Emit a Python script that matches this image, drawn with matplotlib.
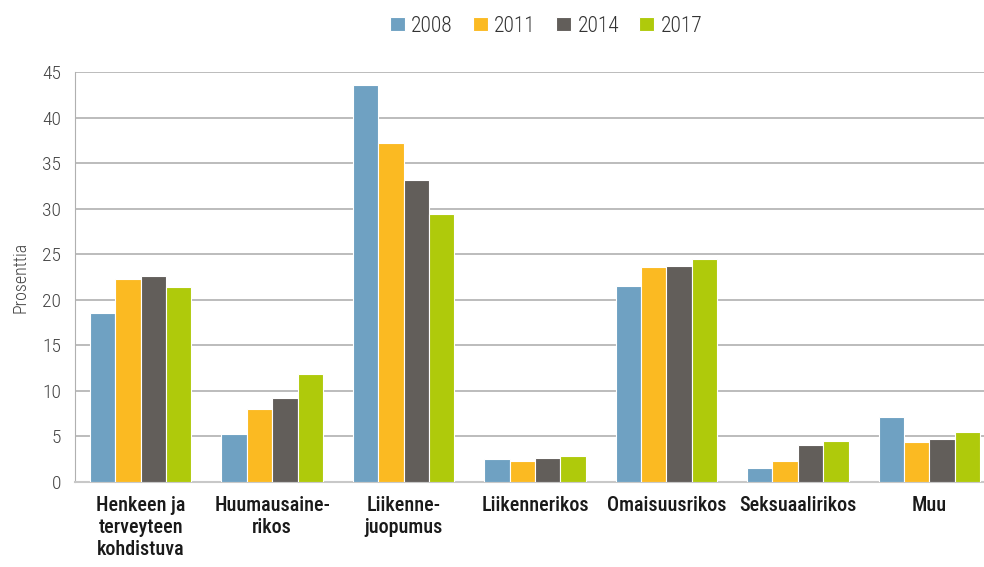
import numpy as np
import matplotlib.pyplot as plt

plt.rcParams['font.family'] = ['Roboto Condensed', 'Roboto', 'DejaVu Sans']

categories = ['Henkeen ja\nterveyteen\nkohdistuva', 'Huumausaine-\nrikos', 'Liikenne-\njuopumus',
              'Liikennerikos', 'Omaisuusrikos', 'Seksuaalirikos', 'Muu']
years = ['2008', '2011', '2014', '2017']
v2008 = [18.6, 5.3, 43.6, 2.5, 21.5, 1.55, 7.15]
v2011 = [22.3, 8.0, 37.2, 2.3, 23.6, 2.3, 4.4]
v2014 = [22.6, 9.2, 33.2, 2.6, 23.7, 4.05, 4.7]
v2017 = [21.4, 11.8, 29.4, 2.8, 24.5, 4.5, 5.45]
colors = ['#6FA1C2', '#FBBA22', '#625E5A', '#AFCA0B']

fig = plt.figure(figsize=(9.84, 5.67), dpi=100)
# axes runs slightly past the right edge of the figure, like the original
ax = fig.add_axes([75 / 984, 0.150, 920 / 984, 0.723])

x = np.arange(len(categories))
w = 0.193
for i, (vals, c) in enumerate(zip([v2008, v2011, v2014, v2017], colors)):
    ax.bar(x + (i - 1.5) * w, vals, w, color=c, edgecolor='white', linewidth=0.8,
           label=years[i], zorder=3)

ax.set_ylim(0, 45)
ax.set_xlim(-0.5, 6.5)
ax.set_yticks(range(0, 46, 5))
ax.yaxis.grid(True, color='#B0B0B0', linewidth=1.2, zorder=0)
ax.tick_params(axis='y', length=0, labelsize=14, colors='#444444', pad=10)
for t in ax.get_yticklabels():
    t.set_fontweight('light')
ax.tick_params(axis='x', length=0, pad=10)
ax.set_xticks(x)
ax.set_xticklabels(categories, fontsize=14.5, fontweight='medium', color='#1a1a1a',
                   linespacing=1.2, va='top')
for s in ['top', 'right']:
    ax.spines[s].set_visible(False)
ax.spines['left'].set_color('#B0B0B0')
ax.spines['bottom'].set_color('#C8C8C8')
ax.spines['bottom'].set_linewidth(1.5)
ax.set_ylabel('Prosenttia', fontsize=13, color='#444444', fontweight='light', labelpad=9)

fig.legend(loc='center', bbox_to_anchor=(0.555, 1 - 26 / 567), ncol=4, frameon=False,
           handlelength=0.68, handleheight=0.68, columnspacing=0.95,
           handletextpad=0.3, labelcolor='#333333', prop={'weight': 'light', 'size': 15.5})

plt.savefig('out.png', dpi=100)
